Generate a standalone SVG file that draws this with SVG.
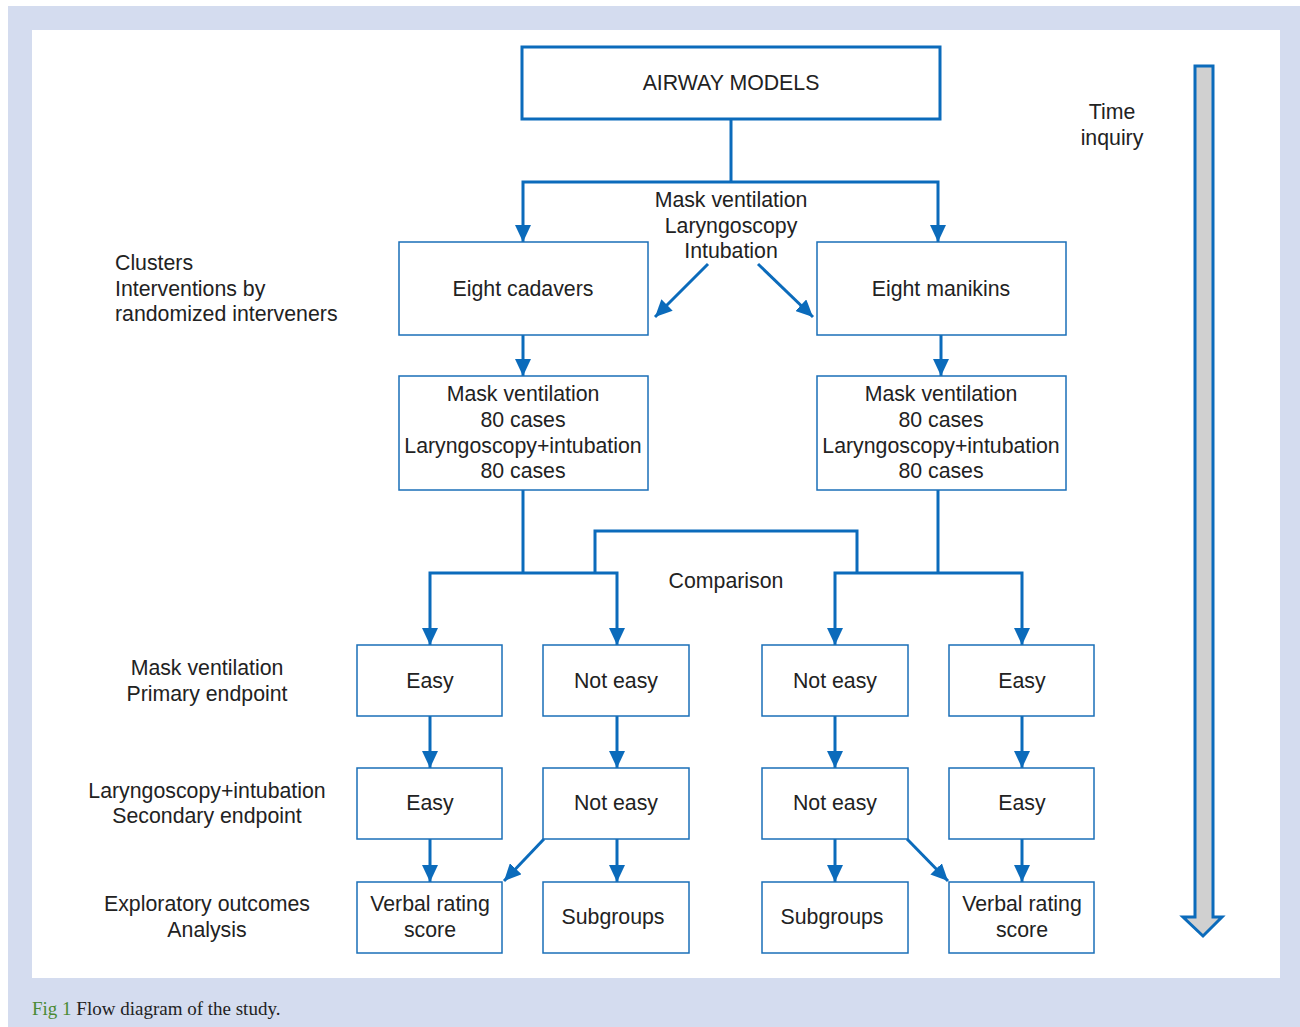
<svg xmlns="http://www.w3.org/2000/svg" width="1300" height="1027" viewBox="0 0 1300 1027">
<defs>
<style>
.bx{fill:#fff;stroke:#1a6fb8;stroke-width:1.5}
.tp{fill:#fff;stroke:#0b6bbb;stroke-width:3}
.t{font-family:"Liberation Sans",Arial,sans-serif;font-size:21.3px;fill:#222;text-anchor:middle}
.tl{font-family:"Liberation Sans",Arial,sans-serif;font-size:21.3px;fill:#222}
.c{fill:none;stroke:#0b6bbb;stroke-width:3}
</style>
<marker id="ah" markerUnits="userSpaceOnUse" markerWidth="17" markerHeight="16" viewBox="0 0 17 16" refX="17" refY="8" orient="auto">
<path d="M0,0 L17,8 L0,16 Z" fill="#0b6bbb"/>
</marker>
</defs>
<rect x="8" y="6" width="1292" height="1021" fill="#d4dcef"/>
<rect x="32" y="30" width="1248" height="948" fill="#fff"/>

<g id="connectors">
<path class="c" d="M731,119 V182"/>
<path class="c" d="M731,182 H523 V242" marker-end="url(#ah)"/>
<path class="c" d="M731,182 H938 V242" marker-end="url(#ah)"/>
<path class="c" d="M708,264 L655,317" marker-end="url(#ah)"/>
<path class="c" d="M758,264 L813,317" marker-end="url(#ah)"/>
<path class="c" d="M523,335 V376" marker-end="url(#ah)"/>
<path class="c" d="M941,335 V376" marker-end="url(#ah)"/>
<path class="c" d="M523,490 V573"/>
<path class="c" d="M523,573 H430 V645" marker-end="url(#ah)"/>
<path class="c" d="M523,573 H617 V645" marker-end="url(#ah)"/>
<path class="c" d="M595,573 V531 H857 V573"/>
<path class="c" d="M938,490 V573"/>
<path class="c" d="M938,573 H835 V645" marker-end="url(#ah)"/>
<path class="c" d="M938,573 H1022 V645" marker-end="url(#ah)"/>
<path class="c" d="M430,716 V768" marker-end="url(#ah)"/>
<path class="c" d="M617,716 V768" marker-end="url(#ah)"/>
<path class="c" d="M835,716 V768" marker-end="url(#ah)"/>
<path class="c" d="M1022,716 V768" marker-end="url(#ah)"/>
<path class="c" d="M430,839 V882" marker-end="url(#ah)"/>
<path class="c" d="M617,839 V882" marker-end="url(#ah)"/>
<path class="c" d="M544,839 L504,881" marker-end="url(#ah)"/>
<path class="c" d="M835,839 V882" marker-end="url(#ah)"/>
<path class="c" d="M907,839 L948,881" marker-end="url(#ah)"/>
<path class="c" d="M1022,839 V882" marker-end="url(#ah)"/>
</g>

<g id="airway"><rect class="tp" x="522" y="47" width="418" height="72"/><text class="t" x="731" y="90">AIRWAY MODELS</text></g>
<g id="procedures"><text class="t" x="731" y="207">Mask ventilation</text><text class="t" x="731" y="233">Laryngoscopy</text><text class="t" x="731" y="258">Intubation</text></g>
<g id="cadavers"><rect class="bx" x="399" y="242" width="249" height="93"/><text class="t" x="523" y="296">Eight cadavers</text></g>
<g id="manikins"><rect class="bx" x="817" y="242" width="249" height="93"/><text class="t" x="941" y="296">Eight manikins</text></g>
<g id="casesL"><rect class="bx" x="399" y="376" width="249" height="114"/>
<text class="t" x="523" y="401">Mask ventilation</text><text class="t" x="523" y="427">80 cases</text><text class="t" x="523" y="453">Laryngoscopy+intubation</text><text class="t" x="523" y="478">80 cases</text></g>
<g id="casesR"><rect class="bx" x="817" y="376" width="249" height="114"/>
<text class="t" x="941" y="401">Mask ventilation</text><text class="t" x="941" y="427">80 cases</text><text class="t" x="941" y="453">Laryngoscopy+intubation</text><text class="t" x="941" y="478">80 cases</text></g>
<g id="comparison"><text class="t" x="726" y="588">Comparison</text></g>

<g id="mv1"><rect class="bx" x="357" y="645" width="145" height="71"/><text class="t" x="430" y="688">Easy</text></g>
<g id="mv2"><rect class="bx" x="543" y="645" width="146" height="71"/><text class="t" x="616" y="688">Not easy</text></g>
<g id="mv3"><rect class="bx" x="762" y="645" width="146" height="71"/><text class="t" x="835" y="688">Not easy</text></g>
<g id="mv4"><rect class="bx" x="949" y="645" width="145" height="71"/><text class="t" x="1022" y="688">Easy</text></g>

<g id="li1"><rect class="bx" x="357" y="768" width="145" height="71"/><text class="t" x="430" y="810">Easy</text></g>
<g id="li2"><rect class="bx" x="543" y="768" width="146" height="71"/><text class="t" x="616" y="810">Not easy</text></g>
<g id="li3"><rect class="bx" x="762" y="768" width="146" height="71"/><text class="t" x="835" y="810">Not easy</text></g>
<g id="li4"><rect class="bx" x="949" y="768" width="145" height="71"/><text class="t" x="1022" y="810">Easy</text></g>

<g id="ex1"><rect class="bx" x="357" y="882" width="145" height="71"/><text class="t" x="430" y="911">Verbal rating</text><text class="t" x="430" y="937">score</text></g>
<g id="ex2"><rect class="bx" x="543" y="882" width="146" height="71"/><text class="t" x="613" y="924">Subgroups</text></g>
<g id="ex3"><rect class="bx" x="762" y="882" width="146" height="71"/><text class="t" x="832" y="924">Subgroups</text></g>
<g id="ex4"><rect class="bx" x="949" y="882" width="145" height="71"/><text class="t" x="1022" y="911">Verbal rating</text><text class="t" x="1022" y="937">score</text></g>

<g id="labels">
<text class="tl" x="115" y="270">Clusters</text>
<text class="tl" x="115" y="296">Interventions by</text>
<text class="tl" x="115" y="321">randomized interveners</text>
<text class="t" x="207" y="675">Mask ventilation</text>
<text class="t" x="207" y="701">Primary endpoint</text>
<text class="t" x="207" y="798">Laryngoscopy+intubation</text>
<text class="t" x="207" y="823">Secondary endpoint</text>
<text class="t" x="207" y="911">Exploratory outcomes</text>
<text class="t" x="207" y="937">Analysis</text>
<text class="t" x="1112" y="119">Time</text>
<text class="t" x="1112" y="145">inquiry</text>
</g>

<g id="timearrow">
<path d="M1195,66 H1213 V917 H1222 L1203,936 L1183,917 H1195 Z" fill="#d0d0d0" stroke="#0b6bbb" stroke-width="3" stroke-linejoin="miter"/>
</g>

<g id="caption">
<text x="32" y="1015" style="font-family:'Liberation Serif','Times New Roman',serif;font-size:19px"><tspan fill="#4a8a34">Fig 1</tspan><tspan fill="#222"> Flow diagram of the study.</tspan></text>
</g>
</svg>
